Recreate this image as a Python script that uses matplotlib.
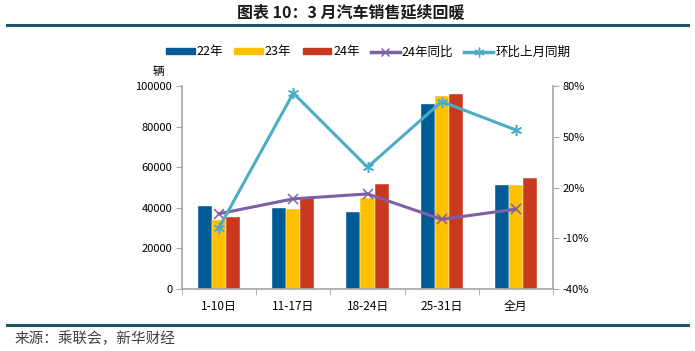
import numpy as np
import matplotlib
matplotlib.use('agg')
import matplotlib.pyplot as plt
from matplotlib.lines import Line2D
from matplotlib.patches import Patch

plt.rcParams['font.family'] = ['Noto Sans CJK SC', 'DejaVu Sans']
plt.rcParams['axes.unicode_minus'] = False

## Data
categories = ['1-10日', '11-17日', '18-24日', '25-31日', '全月']
sales_22 = [40900, 40000, 37800, 91100, 51400]
sales_23 = [34000, 39500, 44700, 95000, 51200]
sales_24 = [35600, 44800, 51600, 95900, 54800]
yoy_24 = [4.5, 13.3, 16.2, 1.2, 7.2]          # %
mom_same = [-3.7, 75.8, 32.0, 70.8, 54.0]      # %

bar_colors = ['#005B96', '#FFC000', '#C9391F']
c_yoy = '#7D5FA5'
c_mom = '#4BACC6'
axis_gray = '#A6A6A6'
band = '#1F5561'

fig = plt.figure(figsize=(6.95, 3.51), dpi=100)
ax = fig.add_axes([182/695, 1-289/351, (553-182)/695, (289-86)/351])
ax2 = ax.twinx()

x = np.arange(len(categories))
w = 0.19
for k, (vals, col) in enumerate(zip([sales_22, sales_23, sales_24], bar_colors)):
    ax.bar(x + (k-1)*w, vals, width=w, color=col, edgecolor='white', linewidth=0.3, zorder=2)

ax2.plot(x, yoy_24, color=c_yoy, lw=2.2, marker='x', ms=7.5, mew=1.1, zorder=3)
ax2.plot(x, mom_same, color=c_mom, lw=2.2, marker=(6, 2, 0), ms=8, mew=1.1, zorder=3)

ax.set_xlim(-0.5, 4.5)
ax.set_ylim(0, 100000)
ax.set_yticks(range(0, 100001, 20000))
ax2.set_ylim(-40, 80)
ax2.set_yticks([-40, -10, 20, 50, 80])
ax2.set_yticklabels(['-40%', '-10%', '20%', '50%', '80%'])

ax.set_xticks(x)
ax.set_xticklabels(categories)
ax.set_xticks(np.arange(-0.5, 5.0, 1.0), minor=True)
ax.tick_params(axis='x', which='major', length=0, pad=8, labelsize=8.5)
ax.tick_params(axis='x', which='minor', length=4, color=axis_gray, direction='out')
ax.tick_params(axis='y', labelsize=8, length=4, color=axis_gray, pad=3)
ax2.tick_params(axis='y', labelsize=8, length=4, color=axis_gray, pad=3)

for a in (ax, ax2):
    a.spines['top'].set_visible(False)
    for s in ['left', 'right', 'bottom']:
        a.spines[s].set_color(axis_gray)
        a.spines[s].set_linewidth(1.2)
ax.spines['right'].set_visible(False)
ax2.spines['left'].set_visible(False)
ax2.spines['bottom'].set_visible(False)

# header / footer
fig.text(351/695, 1-12/351, '图表 10：3 月汽车销售延续回暖', ha='center', va='center',
         fontsize=11.5, fontweight='bold', color='#1a1a1a')
fig.add_artist(Line2D([7/695, 688/695], [1-25/351, 1-25/351], color=band, lw=2.2))
fig.add_artist(Line2D([7/695, 688/695], [1-325/351, 1-325/351], color=band, lw=2.2))
fig.text(15/695, 1-339/351, '来源：乘联会，新华财经', ha='left', va='center',
         fontsize=10.5, color='#404040')
fig.text(158/695, 1-71/351, '辆', ha='center', va='center', fontsize=8.5)

handles = [Patch(color=c) for c in bar_colors] + [
    Line2D([], [], color=c_yoy, lw=2.5, marker='x', ms=6, mew=1.0),
    Line2D([], [], color=c_mom, lw=2.5, marker=(6, 2, 0), ms=7, mew=1.0)]
labels = ['22年', '23年', '24年', '24年同比', '环比上月同期']
fig.legend(handles, labels, loc='center', bbox_to_anchor=(368/695, 1-52/351), ncol=5,
           frameon=False, fontsize=9, handlelength=2.3, handleheight=0.45,
           handletextpad=0.15, columnspacing=0.9)

fig.savefig('out.png', dpi=100)
